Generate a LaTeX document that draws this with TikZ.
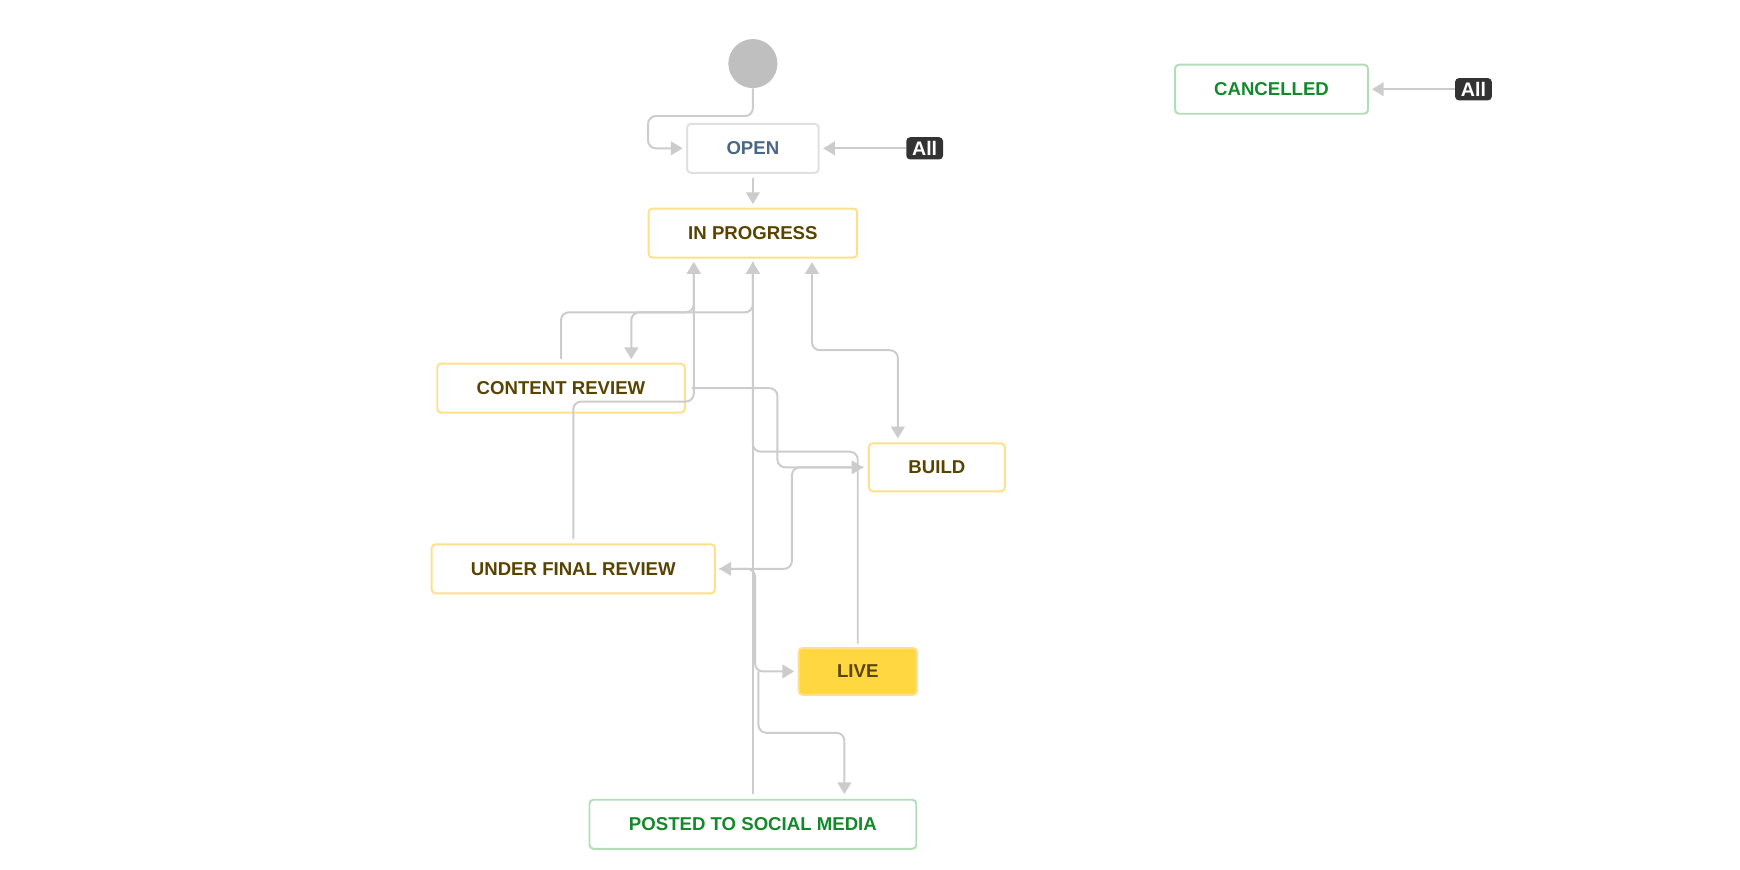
\documentclass[tikz,border=0pt]{standalone}
\usepackage{fontspec}
\setmainfont{Liberation Sans}
\usetikzlibrary{arrows.meta}
\definecolor{ln}{HTML}{CCCCCC}
\definecolor{ybd}{HTML}{FFE08A}
\definecolor{ytx}{HTML}{594300}
\definecolor{gbd}{HTML}{B2DDB8}
\definecolor{gtx}{HTML}{14892C}
\definecolor{btx}{HTML}{4A6785}
\begin{document}
\begin{tikzpicture}[x=0.02cm,y=-0.02cm,
  st/.style={draw,line width=1pt,rounded corners=2pt,font=\fontsize{9.5}{11}\selectfont\bfseries,inner sep=0pt,anchor=center},
  yel/.style={st,draw=ybd,text=ytx},
  grn/.style={st,draw=gbd,text=gtx},
  badge/.style={fill=black!80,text=white,rounded corners=2pt,font=\fontsize{10}{11}\selectfont\bfseries,inner sep=2pt,minimum width=0.66cm,minimum height=0.4cm},
  cn/.style={draw=ln,line width=1pt,rounded corners=4pt,-{Triangle[length=6pt,width=7pt]}}]
\useasboundingbox (0,0) rectangle (1560,780);
\node[circle,fill=black!25,minimum size=0.88cm,inner sep=0] (s) at (675,57) {};
\node[st,draw=black!12,text=btx,minimum width=2.36cm,minimum height=0.88cm] (open) at (675,133) {OPEN};
\node[badge] (all1) at (829,133) {All};
\node[yel,minimum width=3.74cm,minimum height=0.88cm] (ip) at (675,209) {IN PROGRESS};
\node[yel,minimum width=4.44cm,minimum height=0.88cm] (cr) at (503,348) {CONTENT REVIEW};
\node[yel,minimum width=2.44cm,minimum height=0.86cm] (bu) at (840,419) {BUILD};
\node[yel,minimum width=5.08cm,minimum height=0.88cm] (uf) at (514,510) {UNDER FINAL REVIEW};
\node[st,draw=ybd,fill=ybd!50!orange!0!yellow!0!white,text=ytx,fill={rgb,255:red,255;green,215;blue,64},minimum width=2.12cm,minimum height=0.84cm] (live) at (769,602) {LIVE};
\node[grn,minimum width=5.86cm,minimum height=0.88cm] (po) at (675,739) {POSTED TO SOCIAL MEDIA};
\node[grn,minimum width=3.46cm,minimum height=0.88cm] (ca) at (1140,80) {CANCELLED};
\node[badge] (all2) at (1321,80) {All};
\coordinate (ipb1) at (622,235); \coordinate (ipb2) at (675,235); \coordinate (ipb3) at (728,235);
\draw[cn] (s.south) -- (675,104) -- (581,104) -- (581,133) -- (612,133);
\draw[cn] (all1.west) -- (738,133);
\draw[cn] (all2.west) -- (1230,80);
\draw[cn] (675,160) -- (675,183);
\draw[cn] (ipb2) -- (675,280) -- (566,280) -- (566,322);
\draw[cn] (503,322) -- (503,280) -- (622,280) -- (ipb1);
\draw[cn] (514,483) -- (514,360) -- (622,360) -- (ipb1);
\draw[cn,{Triangle[length=6pt,width=7pt]}-{Triangle[length=6pt,width=7pt]}] (ipb3) -- (728,314) -- (805,314) -- (805,393);
\draw[cn] (620,348) -- (697,348) -- (697,419) -- (774,419);
\draw[cn] (675,712) -- (ipb2);
\draw[cn] (769,577) -- (769,405) -- (675,405) -- (ipb2);
\draw[cn] (774,419) -- (710,419) -- (710,510) -- (645,510);
\draw[cn] (645,510) -- (677,510) -- (677,602) -- (712,602);
\draw[cn] (680,602) -- (680,657) -- (757,657) -- (757,712);
\end{tikzpicture}
\end{document}
